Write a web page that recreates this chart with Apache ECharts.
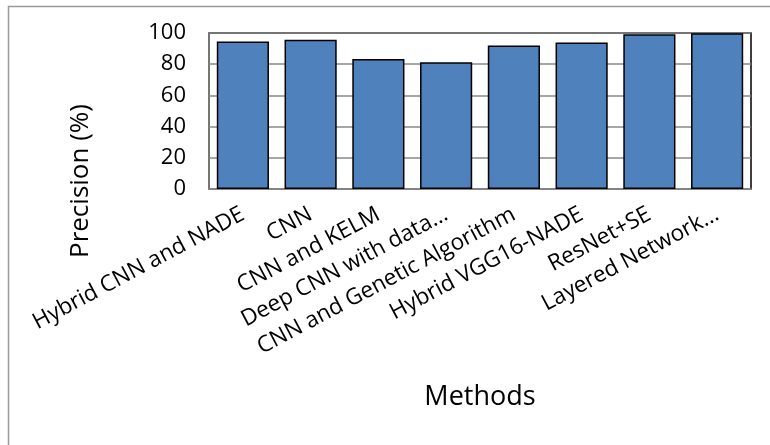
<!DOCTYPE html>
<html><head><meta charset="utf-8">
<script src="https://cdn.jsdelivr.net/npm/echarts@6/dist/echarts.min.js"></script>
<style>html,body{margin:0;padding:0;background:#fff}#c{width:770px;height:445px}</style>
</head><body><div id="c"></div>
<script>
const categories = ["Hybrid CNN and NADE","CNN","CNN and KELM","Deep CNN with data…","CNN and Genetic Algorithm","Hybrid VGG16-NADE","ResNet+SE","Layered Network…"];
const precision = [94.5, 95.6, 83.4, 81.2, 92.0, 93.9, 99.2, 99.9];
const yTicks = [0, 20, 40, 60, 80, 100];
const xTitle = "Methods";
const yTitle = "Precision (%)";

const FONT = "Open Sans";
const chart = echarts.init(document.getElementById('c'), null, {renderer:'canvas'});
chart.setOption({
  animation:false,
  backgroundColor:'#fff',
  grid:{left:209, right:19, top:33, bottom:256, show:true, borderColor:'#000', borderWidth:1.5, backgroundColor:'transparent'},
  xAxis:{
    type:'category', data:categories,
    axisLine:{lineStyle:{color:'#888', width:1.5}},
    axisTick:{show:false},
    axisLabel:{interval:0, rotate:28, fontFamily:FONT, fontSize:22.5, color:'#000', margin:24},
    name:xTitle, nameLocation:'middle', nameGap:195,
    nameTextStyle:{fontFamily:FONT, fontSize:27, color:'#000'}
  },
  yAxis:{
    type:'value', min:yTicks[0], max:yTicks[yTicks.length-1], interval:20,
    axisLine:{show:true, lineStyle:{color:'#888', width:1.5}},
    axisTick:{show:false},
    splitLine:{lineStyle:{color:'#888', width:1.5}},
    axisLabel:{fontFamily:FONT, fontSize:22, color:'#000', margin:23}
  },
  graphic:[
    {type:'rect', shape:{x:8.5, y:6.5, width:900, height:600}, style:{fill:'none', stroke:'#999', lineWidth:1.5}, z:-1},
    {type:'text', x:81, y:181, rotation:Math.PI/2, style:{text:yTitle, font:'26px "Open Sans"', fill:'#000', textAlign:'center', textVerticalAlign:'middle'}}
  ],
  series:[{
    type:'bar', data:precision, barCategoryGap:'23%',
    itemStyle:{color:'#4F81BD', borderColor:'#000', borderWidth:1.5}
  }]
});
</script></body></html>
